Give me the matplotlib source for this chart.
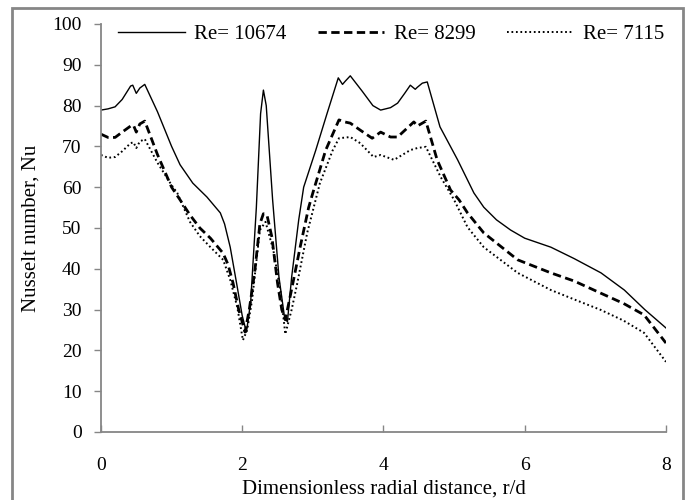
import matplotlib
matplotlib.use("Agg")
import matplotlib.pyplot as plt
from matplotlib.patches import Rectangle

plt.rcParams['font.family'] = ['Liberation Serif', 'DejaVu Serif']

# Re = 10674 (solid)
r_10674 = [0.0, 0.1, 0.2, 0.3, 0.42, 0.45, 0.5, 0.55, 0.62, 0.8, 1.0, 1.12, 1.3, 1.5,
           1.69, 1.75, 1.83, 1.93, 2.0, 2.06, 2.12, 2.2, 2.26, 2.3, 2.34, 2.43, 2.52,
           2.6, 2.64, 2.7, 2.8, 2.87, 3.04, 3.2, 3.36, 3.42, 3.46, 3.53, 3.7, 3.85,
           3.96, 4.1, 4.2, 4.3, 4.38, 4.45, 4.48, 4.55, 4.62, 4.8, 5.05, 5.28, 5.42,
           5.6, 5.8, 6.0, 6.37, 6.7, 7.08, 7.41, 7.7, 8.0]
nu_10674 = [78.9, 79.2, 79.7, 81.5, 84.8, 85.0, 83.0, 84.3, 85.2, 78.5, 70.0, 65.5, 61.0, 57.6,
            53.7, 51.0, 45.3, 35.5, 28.5, 24.5, 32.0, 55.0, 78.0, 83.8, 80.0, 57.0, 38.0,
            28.0, 27.0, 38.0, 52.0, 60.0, 69.0, 78.0, 86.8, 85.2, 86.0, 87.3, 83.5, 80.0,
            78.9, 79.5, 80.6, 83.0, 85.0, 84.0, 84.5, 85.5, 85.8, 74.8, 66.7, 58.6, 55.1,
            52.0, 49.5, 47.5, 45.3, 42.5, 39.0, 34.8, 30.0, 25.5]

# Re = 8299 (dashed)
r_8299 = [0.0, 0.1, 0.2, 0.3, 0.42, 0.46, 0.5, 0.55, 0.62, 0.8, 1.0, 1.12, 1.26, 1.4,
          1.55, 1.73, 1.8, 1.87, 1.95, 2.04, 2.1, 2.18, 2.25, 2.3, 2.35, 2.42, 2.5,
          2.56, 2.61, 2.7, 2.82, 2.94, 3.0, 3.18, 3.37, 3.45, 3.53, 3.67, 3.84, 3.96,
          4.1, 4.2, 4.43, 4.48, 4.6, 4.76, 4.95, 5.07, 5.19, 5.42, 5.9, 6.37, 6.7,
          7.08, 7.4, 7.69, 8.0]
nu_8299 = [73.0, 72.2, 72.2, 73.5, 75.0, 75.2, 73.5, 75.5, 76.2, 68.0, 60.0, 56.9, 53.2, 50.0,
           47.5, 43.8, 41.0, 36.5, 30.0, 24.5, 30.0, 39.7, 51.0, 53.5, 53.2, 47.8, 36.5,
           30.0, 27.5, 35.0, 45.3, 55.0, 58.6, 69.0, 76.5, 76.0, 75.7, 74.0, 72.0, 73.5,
           72.3, 72.3, 76.0, 75.0, 76.2, 66.7, 59.3, 56.9, 53.7, 48.8, 42.2, 39.0, 37.0,
           34.0, 31.5, 28.7, 21.8]

# Re = 7115 (dotted)
r_7115 = [0.0, 0.1, 0.2, 0.3, 0.42, 0.46, 0.5, 0.55, 0.62, 0.8, 1.0, 1.08, 1.26, 1.4,
          1.55, 1.73, 1.83, 1.93, 2.01, 2.07, 2.14, 2.25, 2.33, 2.44, 2.54, 2.61, 2.7,
          2.78, 2.92, 3.1, 3.28, 3.37, 3.53, 3.67, 3.86, 3.96, 4.15, 4.38, 4.48, 4.6,
          4.81, 5.0, 5.19, 5.42, 5.9, 6.37, 6.7, 7.08, 7.4, 7.69, 8.0]
nu_7115 = [67.9, 67.2, 67.4, 68.8, 70.8, 71.0, 69.6, 71.2, 71.8, 66.0, 60.5, 58.6, 51.5, 48.0,
           45.3, 42.2, 37.3, 30.6, 22.5, 25.0, 32.4, 49.5, 51.5, 44.6, 34.8, 24.0, 30.0,
           36.5, 48.8, 61.0, 69.0, 72.0, 72.3, 70.8, 67.4, 67.9, 66.7, 69.1, 69.6, 69.9,
           62.5, 56.9, 50.2, 45.3, 39.0, 34.8, 32.5, 29.9, 27.3, 24.3, 17.2]

x_ticks = [0, 2, 4, 6, 8]
y_ticks = [0, 10, 20, 30, 40, 50, 60, 70, 80, 90, 100]
labels = ['Re= 10674', 'Re= 8299', 'Re= 7115']

fig = plt.figure(figsize=(6.93, 5.0), dpi=100)
ax = fig.add_axes([0.1457, 0.136, 0.8153, 0.816])

ax.plot(r_10674, nu_10674, color='black', lw=1.0, label=labels[0])
ax.plot(r_8299, nu_8299, color='black', lw=2.0, dashes=(3.0, 1.6), label=labels[1])
ax.plot(r_7115, nu_7115, color='black', lw=1.4, dashes=(0.9, 1.4), label=labels[2])

ax.set_xlim(0, 8)
ax.set_ylim(0, 100)
ax.set_xticks(x_ticks)
ax.set_yticks(y_ticks)

gray = '#868686'
for s in ['top', 'right']:
    ax.spines[s].set_visible(False)
for s in ['left', 'bottom']:
    ax.spines[s].set_color(gray)
    ax.spines[s].set_linewidth(1.3)
ax.tick_params(axis='y', direction='out', length=5, width=1.0, color=gray,
               labelsize=14, pad=9)
ax.tick_params(axis='x', direction='in', length=5, width=1.0, color=gray,
               labelsize=14, pad=18)

ax.set_xlabel('Dimensionless radial distance, r/d', fontsize=15, labelpad=4)
ax.set_ylabel('Nusselt number, Nu', fontsize=15, labelpad=8)

leg = ax.legend(ncol=3, loc='upper right', bbox_to_anchor=(1.0, 1.003), frameon=False,
                fontsize=15, handlelength=3.2, handletextpad=0.45, columnspacing=1.5,
                borderaxespad=0.0, borderpad=0.1)

fig.patches.append(Rectangle((12 / 693, -6 / 500), 671 / 693, 498 / 500,
                             transform=fig.transFigure, fill=False,
                             edgecolor=gray, linewidth=2.0))

fig.savefig('out.png', dpi=100)
